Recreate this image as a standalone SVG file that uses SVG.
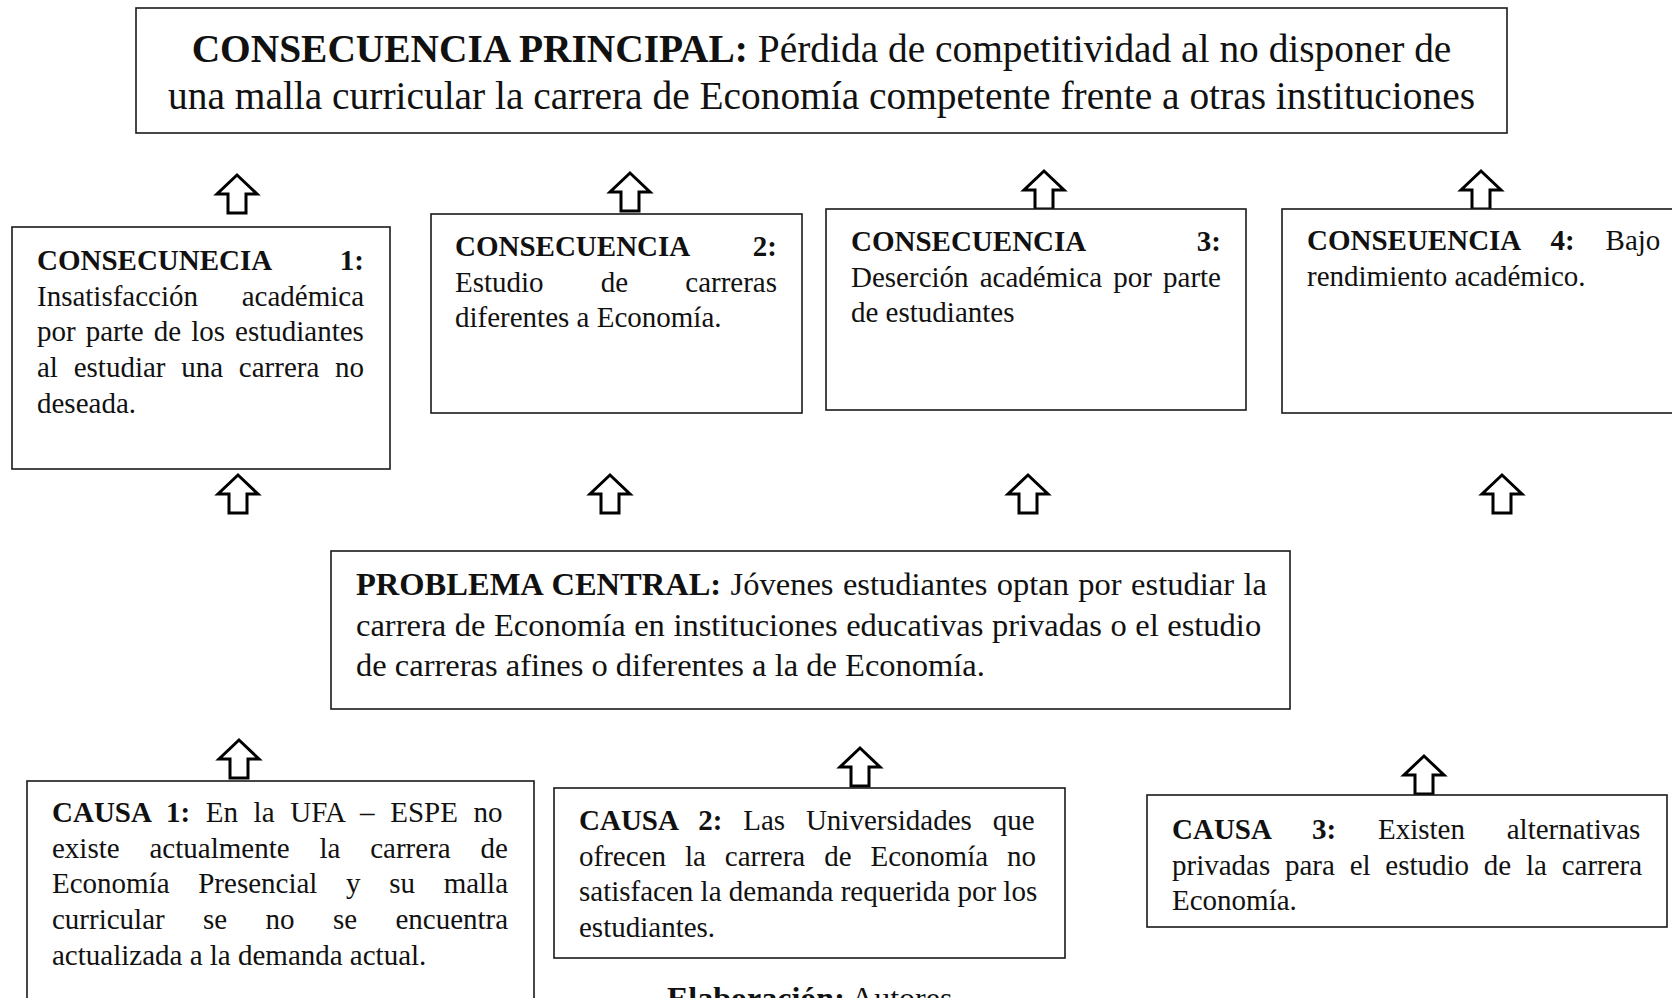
<svg xmlns="http://www.w3.org/2000/svg" width="1672" height="998" viewBox="0 0 1672 998">
<style>
.box{fill:#fff;stroke:#1a1a1a;stroke-width:1.6}
.t{font-family:"Liberation Serif","Times New Roman",serif;font-size:29px;fill:#111}
.tp{font-family:"Liberation Serif","Times New Roman",serif;font-size:32.5px;fill:#111}
.tt{font-family:"Liberation Serif","Times New Roman",serif;font-size:39.4px;fill:#111}
.b{font-weight:bold}
.arr{fill:#fff;stroke:#000;stroke-width:3;stroke-linejoin:miter}
</style>
<defs>
<path id="up" class="arr" d="M0,0 L20,19 L9,19 L9,38 L-9,38 L-9,19 L-20,19 Z"/>
</defs>
<rect width="1672" height="998" fill="#fff"/>

<g id="connectors">
<use href="#up" x="237" y="175"/>
<use href="#up" x="630" y="173"/>
<use href="#up" x="1044" y="171"/>
<use href="#up" x="1481" y="171"/>
<use href="#up" x="238" y="475"/>
<use href="#up" x="610" y="475"/>
<use href="#up" x="1028" y="475"/>
<use href="#up" x="1502" y="475"/>
<use href="#up" x="239" y="740"/>
<use href="#up" x="860" y="748"/>
<use href="#up" x="1424" y="756"/>
</g>

<g id="consecuencia-principal">
<rect class="box" x="136" y="8" width="1371" height="125"/>
<text class="tt" x="821.5" y="62" text-anchor="middle"><tspan class="b">CONSECUENCIA PRINCIPAL:</tspan> Pérdida de competitividad al no disponer de</text>
<text class="tt" x="821.5" y="109" text-anchor="middle">una malla curricular la carrera de Economía competente frente a otras instituciones</text>
</g>

<g id="consecuencia-1">
<rect class="box" x="12" y="227" width="378" height="242"/>
<text class="t b" x="37" y="270">CONSECUNECIA</text>
<text class="t b" x="364" y="270" text-anchor="end">1:</text>
<text class="t" x="37" y="305.7">Insatisfacción</text>
<text class="t" x="364" y="305.7" text-anchor="end">académica</text>
<text class="t" x="37" y="341.4" word-spacing="2.8">por parte de los estudiantes</text>
<text class="t" x="37" y="377.1" word-spacing="8.5">al estudiar una carrera no</text>
<text class="t" x="37" y="412.8">deseada.</text>
</g>

<g id="consecuencia-2">
<rect class="box" x="431" y="214" width="371" height="199"/>
<text class="t b" x="455" y="256">CONSECUENCIA</text>
<text class="t b" x="777" y="256" text-anchor="end">2:</text>
<text class="t" x="455" y="291.7" word-spacing="49.9">Estudio de carreras</text>
<text class="t" x="455" y="327.4">diferentes a Economía.</text>
</g>

<g id="consecuencia-3">
<rect class="box" x="826" y="209" width="420" height="201"/>
<text class="t b" x="851" y="251">CONSECUENCIA</text>
<text class="t b" x="1221" y="251" text-anchor="end">3:</text>
<text class="t" x="851" y="286.7" word-spacing="3.9">Deserción académica por parte</text>
<text class="t" x="851" y="322.4">de estudiantes</text>
</g>

<g id="consecuencia-4">
<rect class="box" x="1282" y="209" width="400" height="204"/>
<text class="t" x="1307" y="250" word-spacing="23.6"><tspan class="b">CONSEUENCIA 4:</tspan> Bajo</text>
<text class="t" x="1307" y="285.7">rendimiento académico.</text>
</g>

<g id="problema-central">
<rect class="box" x="331" y="551" width="959" height="158"/>
<text class="tp" x="356" y="595" word-spacing="1.3"><tspan class="b">PROBLEMA CENTRAL:</tspan> Jóvenes estudiantes optan por estudiar la</text>
<text class="tp" x="356" y="635.5" word-spacing="0.4">carrera de Economía en instituciones educativas privadas o el estudio</text>
<text class="tp" x="356" y="676">de carreras afines o diferentes a la de Economía.</text>
</g>

<g id="causa-1">
<rect class="box" x="27" y="781" width="507" height="240"/>
<text class="t" x="52" y="822" word-spacing="8.4"><tspan class="b">CAUSA 1:</tspan> En la UFA – ESPE no</text>
<text class="t" x="52" y="857.7" word-spacing="22.6">existe actualmente la carrera de</text>
<text class="t" x="52" y="893.4" word-spacing="21.4">Economía Presencial y su malla</text>
<text class="t" x="52" y="929.1" word-spacing="31.1">curricular se no se encuentra</text>
<text class="t" x="52" y="964.8">actualizada a la demanda actual.</text>
</g>

<g id="causa-2">
<rect class="box" x="554" y="788" width="511" height="170"/>
<text class="t" x="579" y="830" word-spacing="13.6"><tspan class="b">CAUSA 2:</tspan> Las Universidades que</text>
<text class="t" x="579" y="865.7" word-spacing="11.7">ofrecen la carrera de Economía no</text>
<text class="t" x="579" y="901.4">satisfacen la demanda requerida por los</text>
<text class="t" x="579" y="937.1">estudiantes.</text>
</g>

<g id="causa-3">
<rect class="box" x="1147" y="795" width="520" height="132"/>
<text class="t" x="1172" y="839" word-spacing="34.5"><tspan class="b">CAUSA 3:</tspan> Existen alternativas</text>
<text class="t" x="1172" y="874.7" word-spacing="7.5">privadas para el estudio de la carrera</text>
<text class="t" x="1172" y="910.4">Economía.</text>
</g>

<g id="elaboracion">
<text class="t" x="667" y="1009" style="font-size:32px"><tspan class="b">Elaboración:</tspan> Autores</text>
</g>
</svg>
